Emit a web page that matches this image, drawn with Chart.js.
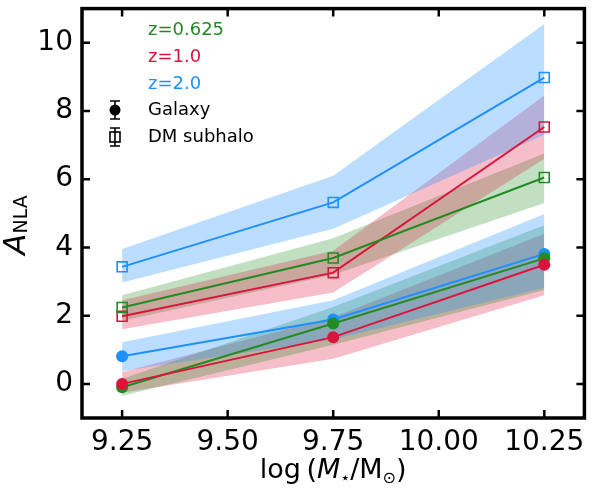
<!DOCTYPE html>
<html>
<head>
<meta charset="utf-8">
<script src="https://cdn.jsdelivr.net/npm/chart.js@4.4.1/dist/chart.umd.min.js"></script>
<style>
  html, body { margin: 0; padding: 0; background: #fff; }
  #wrap { width: 593px; height: 490px; }
</style>
</head>
<body>
<div id="wrap"><canvas id="nlaChart" width="593" height="490"></canvas></div>
<script>
// stellar mass bins, log(M*/Msun)
const massBins = [9.25, 9.75, 10.25];
const xTicks = [9.25, 9.5, 9.75, 10.0, 10.25];
const yTicks = [0, 2, 4, 6, 8, 10];

// galaxy A_NLA (filled circles) and 1-sigma bands
const galZ0625 = [-0.1, 1.77, 3.68];
const galZ0625Lo = [-0.35, 1.15, 2.75];
const galZ0625Hi = [0.15, 2.25, 4.65];
const galZ1 = [0.0, 1.37, 3.49];
const galZ1Lo = [-0.26, 0.74, 2.6];
const galZ1Hi = [0.35, 1.95, 4.4];
const galZ2 = [0.81, 1.89, 3.81];
const galZ2Lo = [0.38, 1.3, 2.82];
const galZ2Hi = [1.22, 2.45, 4.98];

// DM subhalo A_NLA (open squares) and bands
const dmZ0625 = [2.24, 3.69, 6.05];
const dmZ0625Lo = [1.85, 3.2, 5.3];
const dmZ0625Hi = [2.6, 4.27, 6.75];
const dmZ1 = [1.98, 3.26, 7.53];
const dmZ1Lo = [1.6, 2.68, 6.6];
const dmZ1Hi = [2.45, 3.9, 8.45];
const dmZ2 = [3.43, 5.32, 8.98];
const dmZ2Lo = [2.97, 4.55, 7.3];
const dmZ2Hi = [3.95, 6.1, 10.55];

const GREEN = '#228b22', RED = '#dc143c', BLUE = '#1e90ff';
const BAND = {
  green: 'rgba(34,139,34,0.28)',
  red: 'rgba(220,20,60,0.28)',
  blue: 'rgba(30,144,255,0.3)'
};

function pts(arr) {
  return massBins.map((x, i) => ({ x: x, y: arr[i] }));
}

// bands go under the lines (higher order = drawn earlier)
function band(lo, hi, color) {
  return [
    { data: pts(lo), borderWidth: 0, pointRadius: 0, fill: false, order: 2 },
    { data: pts(hi), borderWidth: 0, pointRadius: 0, fill: '-1', backgroundColor: color, order: 2 }
  ];
}

function line(vals, color, square) {
  return {
    data: pts(vals),
    borderColor: color,
    borderWidth: 2,
    fill: false,
    order: 0,
    pointStyle: square ? 'rect' : 'circle',
    pointRadius: square ? 7 : 6,
    pointBorderWidth: square ? 1.6 : 0,
    pointBorderColor: color,
    pointBackgroundColor: square ? 'rgba(0,0,0,0)' : color
  };
}

const datasets = [].concat(
  band(dmZ2Lo, dmZ2Hi, BAND.blue),
  band(dmZ1Lo, dmZ1Hi, BAND.red),
  band(dmZ0625Lo, dmZ0625Hi, BAND.green),
  band(galZ2Lo, galZ2Hi, BAND.blue),
  band(galZ0625Lo, galZ0625Hi, BAND.green),
  band(galZ1Lo, galZ1Hi, BAND.red),
  [
    line(galZ1, RED, false),
    line(galZ0625, GREEN, false),
    line(galZ2, BLUE, false),
    line(dmZ0625, GREEN, true),
    line(dmZ1, RED, true),
    line(dmZ2, BLUE, true)
  ]
);

// frame, inward ticks, axis titles and the text legend
const decorations = {
  id: 'decorations',
  afterDraw(chart) {
    const ctx = chart.ctx;
    const a = chart.chartArea;
    const xs = chart.scales.x, ys = chart.scales.y;
    ctx.save();
    ctx.strokeStyle = '#000';
    ctx.lineWidth = 2.5;
    xTicks.forEach(v => {
      const px = xs.getPixelForValue(v);
      ctx.beginPath();
      ctx.moveTo(px, a.bottom); ctx.lineTo(px, a.bottom - 8);
      ctx.moveTo(px, a.top); ctx.lineTo(px, a.top + 8);
      ctx.stroke();
    });
    yTicks.forEach(v => {
      const py = ys.getPixelForValue(v);
      ctx.beginPath();
      ctx.moveTo(a.left, py); ctx.lineTo(a.left + 8, py);
      ctx.moveTo(a.right, py); ctx.lineTo(a.right - 8, py);
      ctx.stroke();
    });
    ctx.lineWidth = 3.5;
    ctx.strokeRect(a.left, a.top, a.right - a.left, a.bottom - a.top);

    // x title: log (M_*/M_sun)
    ctx.fillStyle = '#000';
    ctx.textBaseline = 'alphabetic';
    const big = '27px "DejaVu Sans"', bigIt = 'italic 27px "DejaVu Sans"', sub = '16px "DejaVu Sans"';
    const parts = [
      { t: 'log\u2009(', f: big, dy: 0 },
      { t: 'M', f: bigIt, dy: 0 },
      { t: '\u22c6', f: sub, dy: 5 },
      { t: '/M', f: big, dy: 0 },
      { t: '\u2299', f: sub, dy: 5 },
      { t: ')', f: big, dy: 0 }
    ];
    let w = 0;
    parts.forEach(p => { ctx.font = p.f; p.w = ctx.measureText(p.t).width; w += p.w; });
    let cx = (a.left + a.right) / 2 - w / 2;
    parts.forEach(p => {
      ctx.font = p.f;
      ctx.fillText(p.t, cx, 478 + p.dy);
      cx += p.w;
    });

    // y title: A_NLA
    ctx.save();
    ctx.translate(25, 225);
    ctx.rotate(-Math.PI / 2);
    ctx.font = 'italic 31px "DejaVu Sans"';
    const wA = ctx.measureText('A').width;
    ctx.font = '19px "DejaVu Sans"';
    const wS = ctx.measureText('NLA').width;
    const x0 = -(wA + wS) / 2;
    ctx.font = 'italic 31px "DejaVu Sans"';
    ctx.fillText('A', x0, 0);
    ctx.font = '19px "DejaVu Sans"';
    ctx.fillText('NLA', x0 + wA, 2);
    ctx.restore();

    // legend
    ctx.font = '18px "DejaVu Sans"';
    ctx.textBaseline = 'middle';
    ctx.textAlign = 'left';
    [['z=0.625', GREEN, 30], ['z=1.0', RED, 57], ['z=2.0', BLUE, 84]].forEach(r => {
      ctx.fillStyle = r[1];
      ctx.fillText(r[0], 148, r[2]);
    });
    ctx.fillStyle = '#000';
    ctx.fillText('Galaxy', 148, 110);
    ctx.fillText('DM subhalo', 148, 137);
    ctx.strokeStyle = '#000';
    ctx.lineWidth = 1.6;
    [110, 137].forEach((yc, i) => {
      ctx.beginPath();
      ctx.moveTo(115, yc - 9); ctx.lineTo(115, yc + 9);
      ctx.moveTo(110, yc - 9); ctx.lineTo(120, yc - 9);
      ctx.moveTo(110, yc + 9); ctx.lineTo(120, yc + 9);
      ctx.stroke();
      if (i === 0) {
        ctx.beginPath();
        ctx.arc(115, yc, 5.5, 0, Math.PI * 2);
        ctx.fill();
      } else {
        ctx.strokeRect(110, yc - 5, 10, 10);
      }
    });
    ctx.restore();
  }
};

const ctx = document.getElementById('nlaChart').getContext('2d');
const nlaChart = new Chart(ctx, {
  type: 'line',
  data: { datasets: datasets },
  options: {
    responsive: false,
    animation: false,
    layout: { padding: { top: 5, right: 6, left: 0, bottom: 0 } },
    plugins: {
      legend: { display: false },
      tooltip: { enabled: false },
      filler: { propagate: false }
    },
    scales: {
      x: {
        type: 'linear',
        min: 9.155,
        max: 10.345,
        afterBuildTicks: s => { s.ticks = xTicks.map(v => ({ value: v })); },
        afterFit: s => { s.height = 72; s.paddingLeft = 0; s.paddingRight = 0; },
        grid: { display: false, drawTicks: false },
        border: { display: false },
        ticks: {
          padding: 8,
          color: '#000',
          font: { family: 'DejaVu Sans', size: 28 },
          maxRotation: 0,
          callback: v => v.toFixed(2)
        }
      },
      y: {
        min: -1,
        max: 11,
        afterBuildTicks: s => { s.ticks = yTicks.map(v => ({ value: v })); },
        afterFit: s => { s.width = 82; s.paddingTop = 0; s.paddingBottom = 0; },
        grid: { display: false, drawTicks: false },
        border: { display: false },
        ticks: {
          padding: 9,
          color: '#000',
          font: { family: 'DejaVu Sans', size: 28 }
        }
      }
    }
  },
  plugins: [decorations]
});
</script>
</body>
</html>
